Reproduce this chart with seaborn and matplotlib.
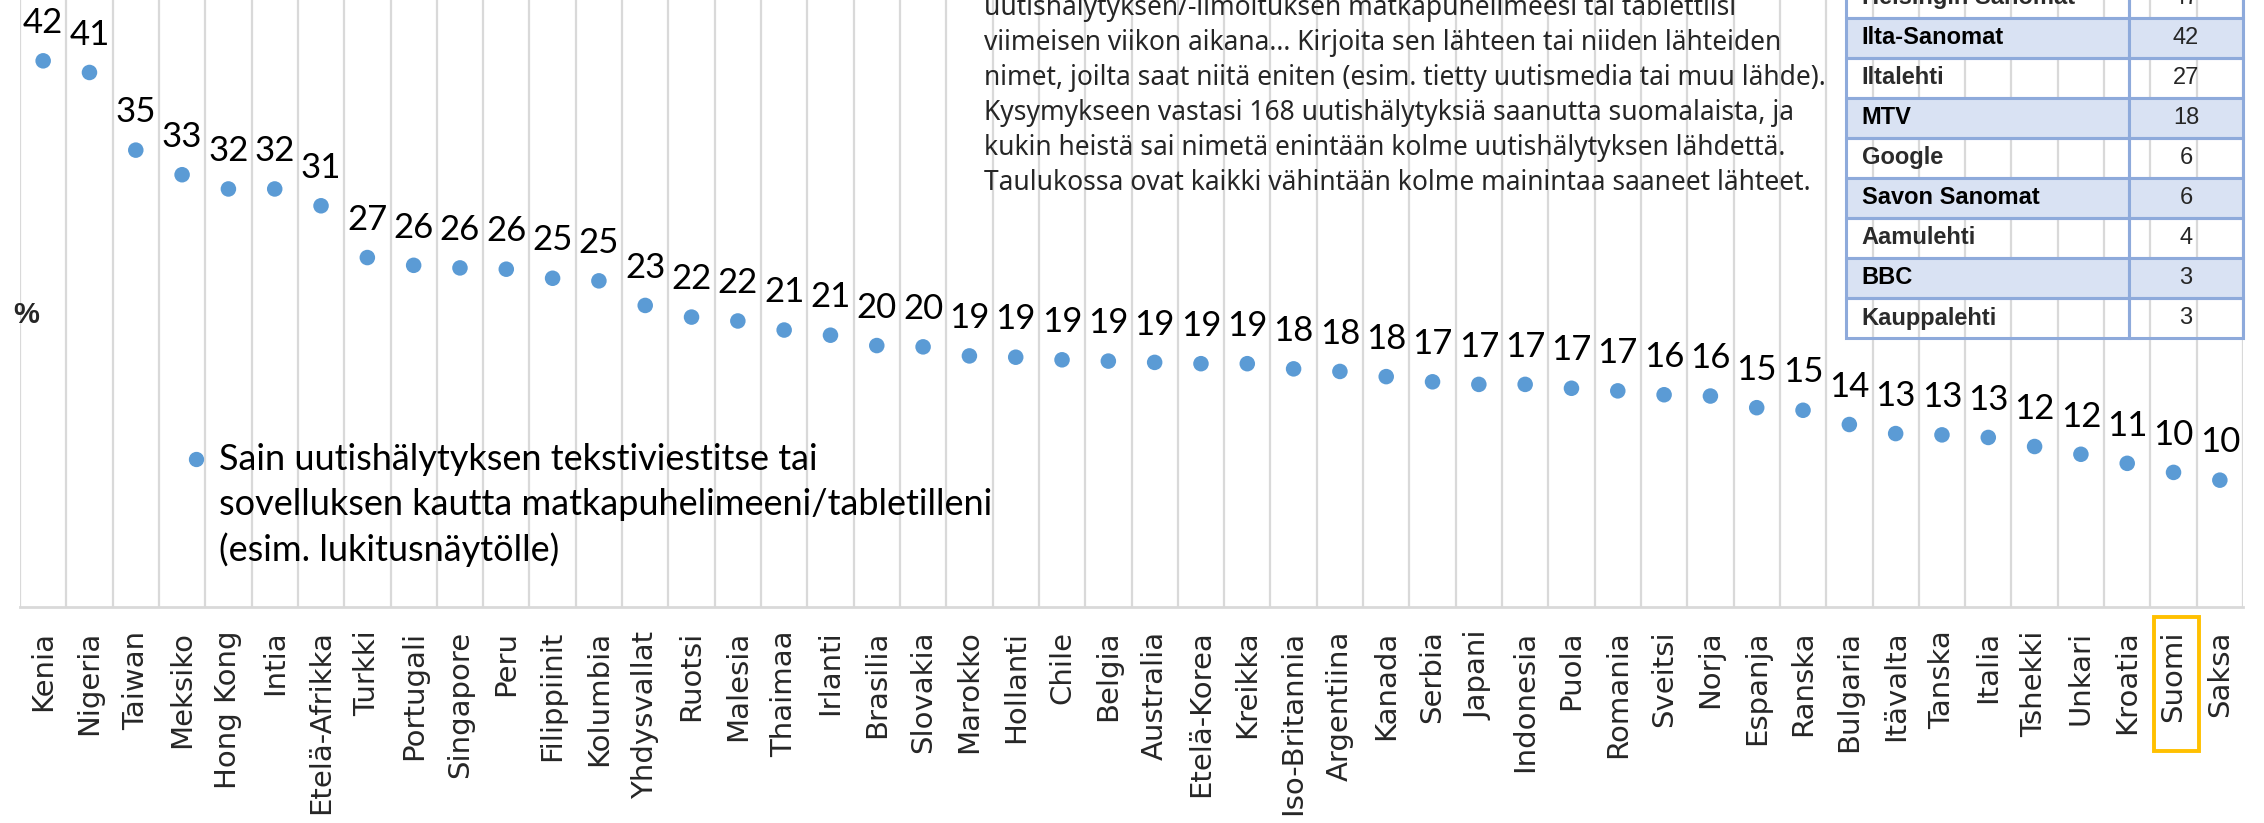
import numpy as np
import matplotlib
matplotlib.use("Agg")
import matplotlib.pyplot as plt
import matplotlib.transforms as mtransforms
from matplotlib.patches import Rectangle
import seaborn as sns

# Maat ja osuudet (%)
countries = ["Kenia", "Nigeria", "Taiwan", "Meksiko", "Hong Kong", "Intia", "Etelä-Afrikka",
             "Turkki", "Portugali", "Singapore", "Peru", "Filippiinit", "Kolumbia", "Yhdysvallat",
             "Ruotsi", "Malesia", "Thaimaa", "Irlanti", "Brasilia", "Slovakia", "Marokko",
             "Hollanti", "Chile", "Belgia", "Australia", "Etelä-Korea", "Kreikka", "Iso-Britannia",
             "Argentiina", "Kanada", "Serbia", "Japani", "Indonesia", "Puola", "Romania",
             "Sveitsi", "Norja", "Espanja", "Ranska", "Bulgaria", "Itävalta", "Tanska", "Italia",
             "Tshekki", "Unkari", "Kroatia", "Suomi", "Saksa"]
values = [42.2, 41.3, 35.3, 33.4, 32.3, 32.3, 31.0, 27.0, 26.4, 26.2, 26.1, 25.4, 25.2, 23.3,
          22.4, 22.1, 21.4, 21.0, 20.2, 20.1, 19.4, 19.3, 19.1, 19.0, 18.9, 18.8, 18.8, 18.4,
          18.2, 17.8, 17.4, 17.2, 17.2, 16.9, 16.7, 16.4, 16.3, 15.4, 15.2, 14.1, 13.4, 13.3,
          13.1, 12.4, 11.8, 11.1, 10.4, 9.8]
labels = [str(int(round(v))) for v in values]
highlight = "Suomi"

legend_lines = ["Sain uutishälytyksen tekstiviestitse tai",
                "sovelluksen kautta matkapuhelimeeni/tabletilleni",
                "(esim. lukitusnäytölle)"]

note_lines = ["uutishälytyksen/-ilmoituksen matkapuhelimeesi tai tablettiisi",
              "viimeisen viikon aikana... Kirjoita sen lähteen tai niiden lähteiden",
              "nimet, joilta saat niitä eniten (esim. tietty uutismedia tai muu lähde).",
              "Kysymykseen vastasi 168 uutishälytyksiä saanutta suomalaista, ja",
              "kukin heistä sai nimetä enintään kolme uutishälytyksen lähdettä.",
              "Taulukossa ovat kaikki vähintään kolme mainintaa saaneet lähteet."]

sources = ["Helsingin Sanomat", "Ilta-Sanomat", "Iltalehti", "MTV", "Google",
           "Savon Sanomat", "Aamulehti", "BBC", "Kauppalehti"]
mentions = [47, 42, 27, 18, 6, 6, 4, 3, 3]

BLUE = "#5B9BD5"
GRID = "#D9D9D9"

sns.set_style("white")
plt.rcParams["font.family"] = ["Liberation Sans", "DejaVu Sans"]

W, H = 2264, 823
fig = plt.figure(figsize=(W / 100, H / 100), dpi=100)
ax = fig.add_axes([20 / W, 1 - 607 / H, 2223 / W, 607 / H])

df = {"maa": countries, "osuus": values}
sns.scatterplot(data=df, x="maa", y="osuus", ax=ax, color=BLUE, s=125,
                edgecolor="none", legend=False, zorder=3)

# datalabels
for i, (v, lab) in enumerate(zip(values, labels)):
    ax.annotate(lab, (i, v), xytext=(0, 20), textcoords="offset points",
                ha="center", va="baseline", fontsize=25, family=["Lato", "DejaVu Sans"],
                color="black", zorder=4)

ax.set_xlim(-0.5, len(countries) - 0.5)
ax.set_ylim(0, 46.9)
ax.set_xlabel("")
ax.set_ylabel("")
ax.set_yticks([])
ax.set_xticks(range(len(countries)))
ax.set_xticklabels(countries, rotation=90, fontsize=21, family="DejaVu Sans")
ax.tick_params(axis="x", length=0, pad=17)
ax.set_xticks(np.arange(-0.5, len(countries)), minor=True)
ax.tick_params(axis="x", which="minor", length=0)
ax.grid(which="minor", axis="x", color=GRID, linewidth=1.6)
ax.grid(which="major", visible=False)
for s in ["top", "right", "left"]:
    ax.spines[s].set_visible(False)
ax.spines["bottom"].set_color(GRID)
ax.spines["bottom"].set_linewidth(2)

# Suomi korostus
hi = countries.index(highlight)
trans = mtransforms.blended_transform_factory(ax.transData, ax.transAxes)
ax.add_patch(Rectangle((hi - 0.42, -0.237), 0.98, 0.22, transform=trans, fill=False,
                       edgecolor="#FFC000", linewidth=2.8, clip_on=False, zorder=5))

# % label
fig.text(26 / W, 1 - 315 / H, "%", fontsize=21, fontweight="bold", ha="center", va="center")

# legend
fig.add_artist(plt.Line2D([196 / W], [1 - 459 / H], marker="o", color=BLUE,
                          markersize=10, linestyle="none", transform=fig.transFigure))
for k, line in enumerate(legend_lines):
    fig.text(219 / W, 1 - (459 + 45.5 * k) / H, line, fontsize=26,
             family=["Lato", "DejaVu Sans"], ha="left", va="center", color="black")

# selite (ylin rivi jää kuvan reunan taakse kuten alkuperäisessä)
for k, line in enumerate(note_lines):
    fig.text(984 / W, 1 - (8 + 35 * k) / H, line, fontsize=19,
             family=["Noto Sans", "DejaVu Sans"], ha="left", va="center", color="#262626")

# taulukko
tax = fig.add_axes([1846 / W, 1 - 338 / H, 397 / W, 360 / H])
tax.axis("off")
cells = [[s, str(m)] for s, m in zip(sources, mentions)]
tbl = tax.table(cellText=cells, bbox=[0, 0, 1, 1], colWidths=[0.713, 0.287],
                cellLoc="center")
tbl.auto_set_font_size(False)
for (r, c), cell in tbl.get_celld().items():
    shaded = r % 2 == 1
    cell.set_facecolor("#D9E2F3" if shaded else (1, 1, 1, 0))
    cell.set_edgecolor("#8EAADB")
    cell.set_linewidth(2.2)
    txt = cell.get_text()
    txt.set_fontsize(17)
    if c == 0:
        cell._loc = "left"
        cell.PAD = 0.055
        txt.set_ha("left")
        txt.set_fontweight("bold")
        txt.set_color("black" if shaded else "#2b2b2b")
    else:
        txt.set_color("#262626")

fig.savefig("out.png", dpi=100)
